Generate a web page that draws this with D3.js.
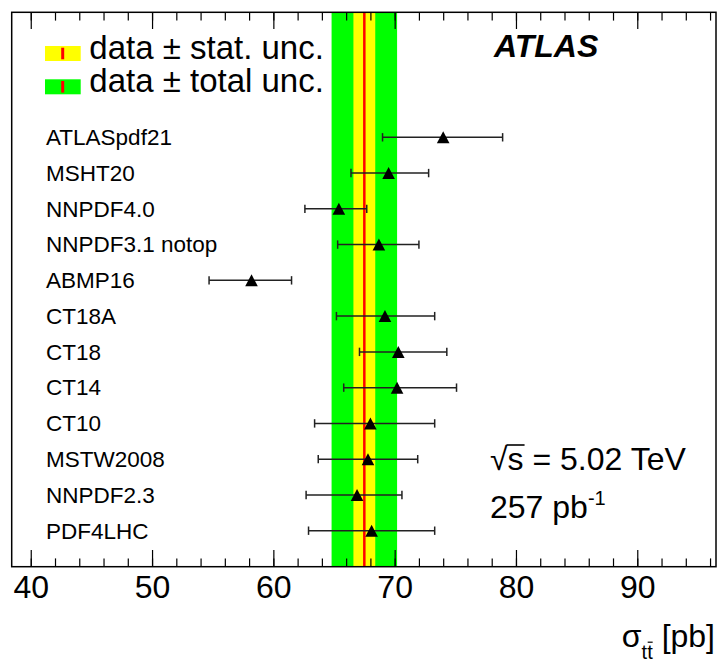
<!DOCTYPE html>
<html>
<head>
<meta charset="utf-8">
<script src="https://cdn.jsdelivr.net/npm/d3@7"></script>
<style>
  html, body { margin: 0; padding: 0; background: #fff; }
  svg { display: block; }
  text { font-family: "Liberation Sans", Arial, Helvetica, sans-serif; fill: #000; }
</style>
</head>
<body>
<svg id="chart" width="718" height="663"></svg>
<script>
// PDF sets and predicted cross-sections (pb)
const pdfSets = ["ATLASpdf21", "MSHT20", "NNPDF4.0", "NNPDF3.1 notop", "ABMP16",
                 "CT18A", "CT18", "CT14", "CT10", "MSTW2008", "NNPDF2.3", "PDF4LHC"];
const prediction = [74.0, 69.5, 65.4, 68.7, 58.2, 69.2, 70.3, 70.2, 68.0, 67.8, 66.9, 68.1];
const predLow    = [69.0, 66.4, 62.6, 65.3, 54.7, 65.2, 67.1, 65.8, 63.4, 63.7, 62.7, 62.9];
const predHigh   = [78.9, 72.8, 67.7, 72.0, 61.5, 73.3, 74.3, 75.1, 73.3, 71.9, 70.6, 73.3];

// Measured value with statistical and total uncertainty (pb)
const measured = 67.5;
const statUnc = 0.9;
const totalUnc = 2.7;

const majorTicks = [40, 50, 60, 70, 80, 90];
const minorTicks = d3.range(40, 97, 2);

const svg = d3.select("#chart");
const frame = { left: 11.7, right: 716, top: 12.3, bottom: 566.7 };

const x = d3.scaleLinear().domain([38.43, 96.49]).range([frame.left, frame.right]);
const y = d3.scalePoint().domain(pdfSets).range([137.3, 530.7]);

const plotH = frame.bottom - frame.top;

// Uncertainty bands spanning the full plot height
svg.append("rect")
  .attr("x", x(measured - totalUnc)).attr("y", frame.top)
  .attr("width", x(measured + totalUnc) - x(measured - totalUnc)).attr("height", plotH)
  .attr("fill", "#00ff00");
svg.append("rect")
  .attr("x", x(measured - statUnc)).attr("y", frame.top)
  .attr("width", x(measured + statUnc) - x(measured - statUnc)).attr("height", plotH)
  .attr("fill", "#ffff00");
svg.append("line")
  .attr("x1", x(measured)).attr("x2", x(measured))
  .attr("y1", frame.top).attr("y2", frame.bottom)
  .attr("stroke", "#ff0000").attr("stroke-width", 2.5);

// Axes: bottom with labels, top mirrored without labels
function styleAxis(g) {
  g.select(".domain").remove();
  g.selectAll(".tick line").attr("stroke", "#000").attr("stroke-width", 1.2);
}
svg.append("g")
  .attr("transform", `translate(0,${frame.bottom})`)
  .call(d3.axisBottom(x).tickValues(minorTicks).tickSize(-8.3).tickFormat(""))
  .call(styleAxis);
svg.append("g")
  .attr("transform", `translate(0,${frame.bottom})`)
  .call(d3.axisBottom(x).tickValues(majorTicks).tickSize(-16.7).tickPadding(8.3).tickFormat(d3.format("d")))
  .call(styleAxis)
  .call(g => g.selectAll(".tick text")
    .attr("font-size", 32)
    .attr("font-family", '"Liberation Sans", Arial, Helvetica, sans-serif')
    .attr("fill", "#000"));
svg.append("g")
  .attr("transform", `translate(0,${frame.top})`)
  .call(d3.axisTop(x).tickValues(minorTicks).tickSize(-8.3).tickFormat(""))
  .call(styleAxis);
svg.append("g")
  .attr("transform", `translate(0,${frame.top})`)
  .call(d3.axisTop(x).tickValues(majorTicks).tickSize(-16.7).tickFormat(""))
  .call(styleAxis);

// Frame
svg.append("rect")
  .attr("x", frame.left).attr("y", frame.top)
  .attr("width", frame.right - frame.left).attr("height", plotH)
  .attr("fill", "none").attr("stroke", "#000").attr("stroke-width", 1.5);

// Predictions with error bars
const rows = pdfSets.map((name, i) => ({
  name, value: prediction[i], lo: predLow[i], hi: predHigh[i]
}));

const pts = svg.append("g").selectAll("g").data(rows).join("g")
  .attr("transform", d => `translate(0,${y(d.name)})`);

pts.append("line")
  .attr("x1", d => x(d.lo)).attr("x2", d => x(d.hi))
  .attr("stroke", "#222").attr("stroke-width", 1.5);
pts.append("line")
  .attr("x1", d => x(d.lo)).attr("x2", d => x(d.lo))
  .attr("y1", -4.2).attr("y2", 4.2)
  .attr("stroke", "#222").attr("stroke-width", 1.5);
pts.append("line")
  .attr("x1", d => x(d.hi)).attr("x2", d => x(d.hi))
  .attr("y1", -4.2).attr("y2", 4.2)
  .attr("stroke", "#222").attr("stroke-width", 1.5);
pts.append("path")
  .attr("transform", d => `translate(${x(d.value)},0)`)
  .attr("d", "M0,-6L6.3,6L-6.3,6Z")
  .attr("fill", "#000");

// Row labels
svg.append("g").selectAll("text").data(rows).join("text")
  .attr("x", 46).attr("y", d => y(d.name) + 7.8)
  .attr("font-size", 22.5)
  .text(d => d.name);

// Legend
const legend = [
  { label: "data \u00B1 stat. unc.", color: "#ffff00", y: 46 },
  { label: "data \u00B1 total unc.", color: "#00ff00", y: 79.3 }
];
const lg = svg.append("g").selectAll("g").data(legend).join("g");
lg.append("rect")
  .attr("x", 45).attr("y", d => d.y).attr("width", 35.7).attr("height", 15)
  .attr("fill", d => d.color);
lg.append("line")
  .attr("x1", 62.7).attr("x2", 62.7)
  .attr("y1", d => d.y + 1.7).attr("y2", d => d.y + 13.3)
  .attr("stroke", "#ff0000").attr("stroke-width", 3);
lg.append("text")
  .attr("x", 89.3).attr("y", d => d.y + 12.8)
  .attr("font-size", 33)
  .text(d => d.label);

// ATLAS label
svg.append("text")
  .attr("x", 494).attr("y", 56.7)
  .attr("font-size", 32).attr("font-weight", "bold").attr("font-style", "italic")
  .text("ATLAS");

// Energy and luminosity
const sq = svg.append("text").attr("x", 490).attr("y", 470).attr("font-size", 32);
sq.append("tspan").text("\u221A");
sq.append("tspan").attr("id", "sArg").text("s");
sq.append("tspan").text(" = 5.02 TeV");
const sBox = document.getElementById("sArg").getBBox();
svg.append("line")
  .attr("x1", sBox.x - 1).attr("x2", sBox.x + sBox.width + 1)
  .attr("y1", sBox.y + 4).attr("y2", sBox.y + 4)
  .attr("stroke", "#000").attr("stroke-width", 1.6);

const lumi = svg.append("text").attr("x", 490).attr("y", 518).attr("font-size", 32);
lumi.append("tspan").text("257 pb");
lumi.append("tspan").attr("font-size", 20).attr("dy", -13).text("-1");

// Axis title
const title = svg.append("text")
  .attr("x", 715).attr("y", 646.7).attr("text-anchor", "end").attr("font-size", 32);
title.append("tspan").text("\u03C3");
title.append("tspan").attr("font-size", 20).attr("dy", 12).text("t");
title.append("tspan").attr("font-size", 20).attr("id", "tbar").text("t");
title.append("tspan").attr("dy", -12).text(" [pb]");
const tb = document.getElementById("tbar").getBBox();
svg.append("line")
  .attr("x1", tb.x + 0.5).attr("x2", tb.x + tb.width - 0.5)
  .attr("y1", tb.y + 1.5).attr("y2", tb.y + 1.5)
  .attr("stroke", "#000").attr("stroke-width", 1.2);
</script>
</body>
</html>
